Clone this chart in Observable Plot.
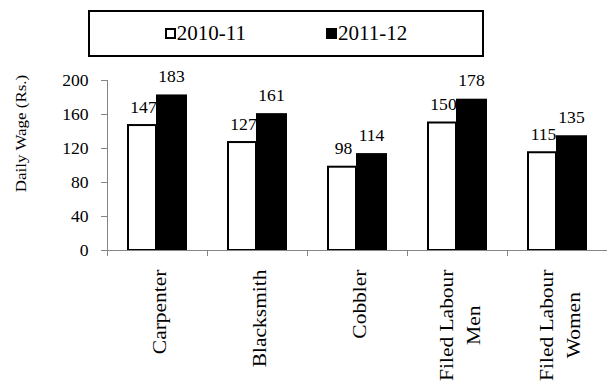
<!DOCTYPE html>
<html>
<head>
<meta charset="utf-8">
<script src="https://cdn.jsdelivr.net/npm/d3@7"></script>
<script src="https://cdn.jsdelivr.net/npm/@observablehq/plot@0.6"></script>
<style>
  html, body { margin: 0; padding: 0; background: #fff; }
  body { width: 607px; height: 385px; overflow: hidden; font-family: "Liberation Serif", "Times New Roman", serif; }
  #legend-wrap { height: 64px; box-sizing: border-box; padding-top: 10px; }
  #legend {
    margin-left: 88px; width: 396px; height: 47px; box-sizing: border-box;
    border: 2px solid #000; display: flex; align-items: center; justify-content: center;
    font-size: 21px; color: #000; gap: 80px;
  }
  .item { display: flex; align-items: center; }
  .sw { display: inline-block; width: 11px; height: 11px; box-sizing: border-box; border: 2px solid #000; margin-right: 1px; }
</style>
</head>
<body>
<div id="legend-wrap"><div id="legend"></div></div>
<div id="chart"></div>
<script>
// Daily wage rates (Rs.) by occupation, two years
const categories = ["Carpenter", "Blacksmith", "Cobbler", "Filed Labour\nMen", "Filed Labour\nWomen"];
const wage2010 = [147, 127, 98, 150, 115];
const wage2011 = [183, 161, 114, 178, 135];
const seriesNames = ["2010-11", "2011-12"];
const seriesFills = ["#fff", "#000"];
const yTicks = [0, 40, 80, 120, 160, 200];
const yLabel = "Daily Wage (Rs.)";

const rows = categories.map((c, i) => ({category: c, a: wage2010[i], b: wage2011[i]}));

// legend
const legend = d3.select("#legend");
seriesNames.forEach((name, i) => {
  const item = legend.append("div").attr("class", "item");
  item.append("span").attr("class", "sw").style("background", seriesFills[i]);
  item.append("span").text(name);
});

const serif = "'Liberation Serif', 'Times New Roman', serif";
const axisGray = "#868686";
const catFont = 19;      // category label size
const catStretch = 1.13; // wide setting of the rotated labels
const numStretch = 1.1;  // wide setting of the numbers

// length of the longest line of each category label, used to centre the lines
const ctx = document.createElement("canvas").getContext("2d");
ctx.font = `${catFont}px 'Liberation Serif'`;
const longest = c => d3.max(c.split("\n"), s => ctx.measureText(s).width) * catStretch;

const chart = Plot.plot({
  width: 607,
  height: 321,
  marginLeft: 107,
  marginRight: 0,
  marginTop: 16,
  marginBottom: 135,
  style: {fontFamily: serif, background: "#fff", color: "#000"},
  x: {domain: categories, padding: 0, axis: null},
  y: {domain: [0, 200], axis: null},
  marks: [
    // bars: 2010-11 outlined white, 2011-12 solid black
    Plot.barY(rows, {x: "category", y: "a", fill: seriesFills[0], stroke: "#000", strokeWidth: 2, insetLeft: 21, insetRight: 51}),
    Plot.barY(rows, {x: "category", y: "b", fill: seriesFills[1], insetLeft: 49, insetRight: 20}),
    // value labels (text groups 0 and 1)
    Plot.text(rows, {x: "category", y: "a", text: d => String(d.a), dx: -14, dy: -13, lineAnchor: "bottom", fontSize: 16, fill: "#000"}),
    Plot.text(rows, {x: "category", y: "b", text: d => String(d.b), dx: 14, dy: -13, lineAnchor: "bottom", fontSize: 16, fill: "#000"}),
    // y axis
    Plot.frame({anchor: "left", stroke: axisGray}),
    Plot.axisY({ticks: yTicks, tickSize: 6, tickPadding: 13, stroke: axisGray, fill: "#000", fontSize: 16, label: null}),
    // y title (text group 2)
    Plot.text([yLabel], {text: d => d, frameAnchor: "left", dx: -86, dy: -32, rotate: -90, textAnchor: "middle", lineAnchor: "middle", fontSize: 15, fill: "#000"}),
    // x axis baseline and category boundary ticks
    Plot.ruleY([0], {stroke: axisGray, insetLeft: -4}),
    Plot.ruleX(categories, {x: d => d, y1: 0, y2: 0, dx: -50, insetBottom: -6, stroke: axisGray}),
    // rotated category labels, lines centred on each other (text groups 3+)
    ...categories.map(c => Plot.text([c], {x: d => d, text: d => d, frameAnchor: "bottom", dy: 19 + longest(c) / 2, rotate: -90, textAnchor: "middle", lineAnchor: "middle", lineHeight: 1.45, fontSize: catFont, fill: "#000"}))
  ]
});

// widen text along its own baseline
function stretch(nodes, k) {
  d3.selectAll(nodes).selectAll("text").each(function() {
    const t = this.getAttribute("transform") || "";
    this.setAttribute("transform", `${t} scale(${k},1)`);
  });
}
const textGroups = d3.select(chart).selectAll('g[aria-label="text"]').nodes();
stretch(textGroups.slice(0, 2), numStretch);
stretch(textGroups.slice(2), catStretch);
stretch(d3.select(chart).selectAll('g[aria-label$="tick label"]').nodes(), numStretch);

document.getElementById("chart").appendChild(chart);
</script>
</body>
</html>
